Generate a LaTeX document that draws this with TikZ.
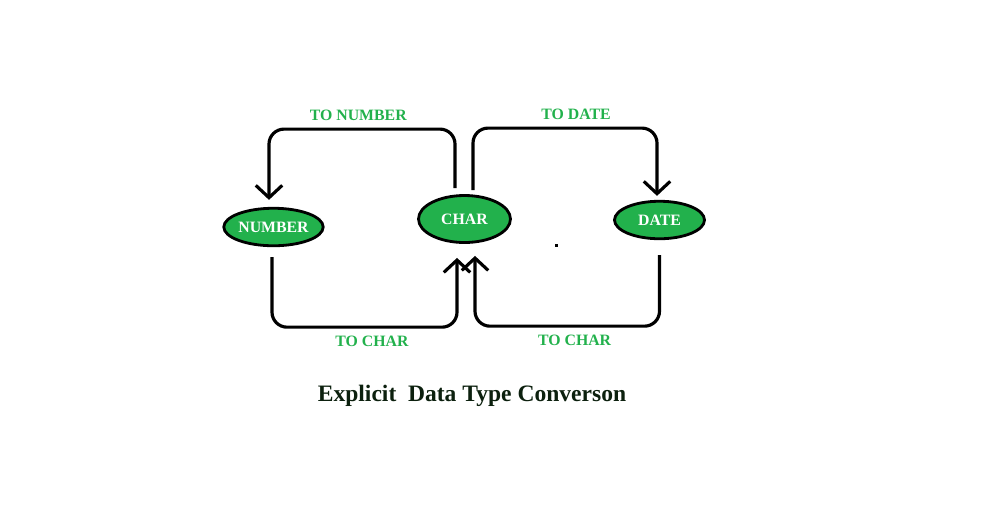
\documentclass[tikz,border=0pt]{standalone}
\usepackage{fontspec}
\setmainfont{Liberation Serif}
\usetikzlibrary{shapes.geometric, arrows.meta}
\definecolor{paintgreen}{RGB}{34,177,76}
\definecolor{titleink}{RGB}{12,32,14}
\tikzstyle{datatype} = [ellipse, minimum width=1.8cm, minimum height=0.75cm, inner sep=0pt, text centered, draw=black, line width=1.6pt, fill=paintgreen, text=white, font=\fontsize{9}{10}\selectfont\bfseries]
\tikzstyle{conv} = [text=paintgreen, inner sep=4pt, font=\fontsize{9}{10}\selectfont\bfseries]
\tikzstyle{arrow} = [line width=1.8pt, rounded corners=0.3cm, -{Straight Barb[length=7pt,width=15pt]}]

\begin{document}
\begin{tikzpicture}[node distance=3.8cm, auto]
				\useasboundingbox (0,0) rectangle (19.94,-10.58);
				\node(num) [datatype] at (5.47,-4.54) {NUMBER};
				\node(chr) [datatype, right of=num, xshift=0.02cm, yshift=0.16cm, minimum width=1.84cm, minimum height=0.94cm] {CHAR};
				\node(dat) [datatype, right of=chr, xshift=0.1cm, yshift=-0.02cm] {DATE};
				
				\node(title) [below of=chr, yshift=0.26cm, xshift=0.15cm, text=titleink, font=\fontsize{13.4}{15}\selectfont\bfseries] {Explicit\ \ Data Type Converson};
				
				\draw[arrow] ([xshift=-0.19cm, yshift=0.12cm]chr.north) -- ++(0,1.18) -| node[conv, above, pos=0.26] {TO NUMBER} ([xshift=-0.09cm, yshift=0.14cm]num.north);
				\draw[arrow] ([xshift=0.17cm, yshift=0.08cm]chr.north) -- ++(0,1.24) -| node[conv, above, pos=0.28] {TO DATE} ([xshift=-0.05cm, yshift=0.08cm]dat.north);
				\draw[arrow] ([xshift=-0.03cm, yshift=-0.2cm]num.south) -- ++(0,-1.40) -| node[conv, below, pos=0.27] {TO CHAR} ([xshift=-0.15cm, yshift=-0.28cm]chr.south);
				\draw[arrow] ([yshift=-0.30cm]dat.south) -- ++(0,-1.42) -| node[conv, below, pos=0.23] {TO CHAR} ([xshift=0.21cm, yshift=-0.24cm]chr.south);
				
				% stray mark
				\fill (11.09,-4.87) rectangle (11.15,-4.93);
			\end{tikzpicture}
\end{document}
